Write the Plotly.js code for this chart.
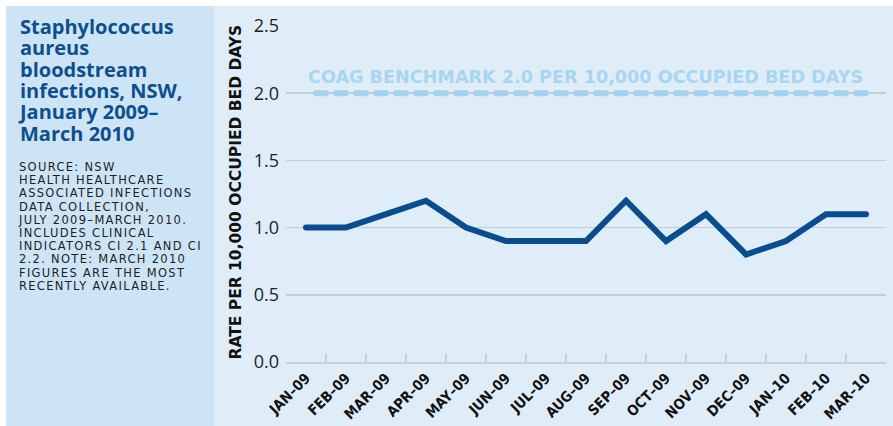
<!DOCTYPE html>
<html>
<head>
<meta charset="utf-8">
<script src="https://cdn.plot.ly/plotly-3.0.1.min.js"></script>
<style>
html,body{margin:0;padding:0;background:#fff;}
#chart{width:893px;height:426px;}
#chart .scatterlayer .js-line{stroke-linecap:round;stroke-dashoffset:10px;}
</style>
</head>
<body>
<div id="chart"></div>
<script>
// ---- data ----
const months = ["JAN–09","FEB–09","MAR–09","APR–09","MAY–09","JUN–09","JUL–09","AUG–09","SEP–09","OCT–09","NOV–09","DEC–09","JAN–10","FEB–10","MAR–10"];
const rates = [1.0, 1.0, 1.1, 1.2, 1.0, 0.9, 0.9, 0.9, 1.2, 0.9, 1.1, 0.8, 0.9, 1.1, 1.1];
const benchmarkValue = 2.0;
const benchmark = months.map(() => benchmarkValue);
const yTicks = [0, 0.5, 1.0, 1.5, 2.0, 2.5];
const yTickText = ["0.0","0.5","1.0","1.5","2.0","2.5"];
const titleLines = ["Staphylococcus","aureus","bloodstream","infections, NSW,","January 2009–","March 2010"];
const sourceLines = ["SOURCE: NSW","HEALTH HEALTHCARE","ASSOCIATED INFECTIONS","DATA COLLECTION,","JULY 2009–MARCH 2010.","INCLUDES CLINICAL","INDICATORS CI 2.1 AND CI","2.2. NOTE: MARCH 2010","FIGURES ARE THE MOST","RECENTLY AVAILABLE."];
const benchmarkLabel = "COAG BENCHMARK 2.0 PER 10,000 OCCUPIED BED DAYS";
const yTitle = "RATE PER 10,000 OCCUPIED BED DAYS";

// ---- geometry helpers (pixel -> paper) ----
const W = 893, H = 426, L = 286, R = 7, T = 26, B = 64;
const pw = W - L - R, ph = H - T - B;
const px = x => (x - L) / pw;
const py = y => (H - B - y) / ph;

const traces = [
  {
    x: months, y: benchmark, type: "scatter", mode: "lines",
    line: {color: "#a3d3f0", width: 6, dash: "10px,10px"},
    hoverinfo: "skip", showlegend: false
  },
  {
    x: months, y: rates, type: "scatter", mode: "lines",
    line: {color: "#0a4d8f", width: 6},
    showlegend: false
  }
];

// multi-line blocks: base font size sets the line pitch (1.3em), inner span sets glyph size
const block = (lines, size, extra) => lines
  .map(t => '<span style="font-size:' + size + 'px;' + (extra || '') + '">' + t + '</span>')
  .join('<br>');

const annotations = [];
annotations.push({
  text: block(titleLines, 20), xref: "paper", yref: "paper", x: px(16), y: py(11),
  xanchor: "left", yanchor: "top", align: "left", showarrow: false,
  font: {family: "Open Sans", size: 21.3 / 1.3, color: "#0d4f8c", weight: 700}
});
annotations.push({
  text: block(sourceLines, 11.5, 'letter-spacing:1.3px'), xref: "paper", yref: "paper",
  x: px(16), y: py(157.5), xanchor: "left", yanchor: "top", align: "left", showarrow: false,
  font: {family: "DejaVu Sans", size: 13.2 / 1.3, color: "#231f20"}
});
annotations.push({
  text: benchmarkLabel, xref: "paper", yref: "paper", x: px(585), y: py(77),
  xanchor: "center", yanchor: "middle", showarrow: false,
  font: {family: "DejaVu Sans", size: 17.6, color: "#a8d6f1", weight: 700}
});
annotations.push({
  text: yTitle, xref: "paper", yref: "paper", x: px(235), y: py(192.5),
  xanchor: "center", yanchor: "middle", textangle: -90, showarrow: false,
  font: {family: "DejaVu Sans", size: 15.5, color: "#111", weight: 700}
});

const layout = {
  width: W, height: H,
  margin: {l: L, r: R, t: T, b: B, pad: 0},
  paper_bgcolor: "#ffffff",
  plot_bgcolor: "#dfedf9",
  showlegend: false,
  xaxis: {
    type: "category", tickson: "boundaries", ticks: "inside", ticklen: 8,
    tickwidth: 2, tickcolor: "#cdd0d3", showline: true, linecolor: "#cdd0d3", linewidth: 2,
    showgrid: false, zeroline: false, tickangle: -45, fixedrange: true,
    tickfont: {family: "DejaVu Sans Condensed, DejaVu Sans", size: 14.5, color: "#111", weight: 700},
    range: [-0.5, months.length - 0.5]
  },
  yaxis: {
    range: [0, 2.5], tickvals: yTicks, ticktext: yTickText, ticks: "",
    showgrid: true, gridcolor: "#c9cdd1", gridwidth: 1.5, zeroline: false, showline: false,
    tickfont: {family: "Open Sans", size: 18, color: "#222"}, ticklabelstandoff: 6, fixedrange: true
  },
  shapes: [
    {type: "rect", xref: "paper", yref: "paper", x0: px(214), x1: px(893), y0: py(426), y1: py(6),
     fillcolor: "#dfedf9", line: {width: 0}, layer: "below"},
    {type: "rect", xref: "paper", yref: "paper", x0: px(6), x1: px(214), y0: py(426), y1: py(6),
     fillcolor: "#cde4f7", line: {width: 0}, layer: "below"}
  ],
  annotations: annotations
};

Plotly.newPlot("chart", traces, layout, {displayModeBar: false, staticPlot: true});
</script>
</body>
</html>
